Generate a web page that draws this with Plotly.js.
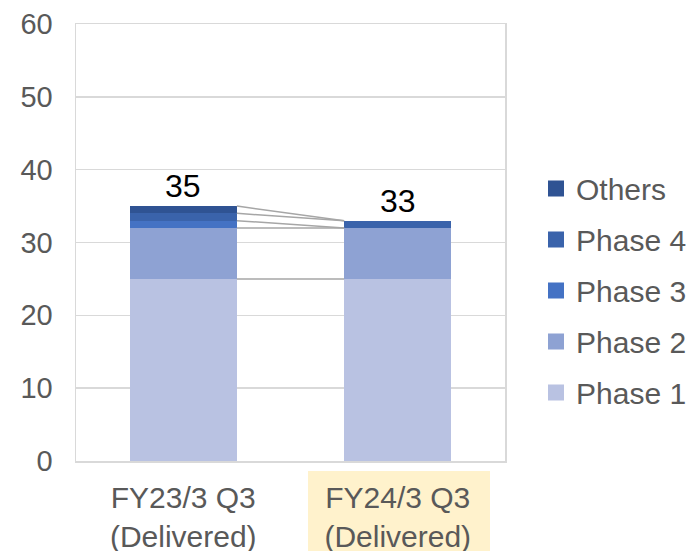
<!DOCTYPE html>
<html>
<head>
<meta charset="utf-8">
<script src="https://cdn.plot.ly/plotly-3.0.1.min.js"></script>
<style>html,body{margin:0;padding:0;background:#fff;}#chart{width:693px;height:551px;}</style>
</head>
<body>
<div id="chart"></div>
<script>
const categories = ["FY23/3 Q3<br>(Delivered)", "FY24/3 Q3<br>(Delivered)"];
const seriesNames = ["Phase 1", "Phase 2", "Phase 3", "Phase 4", "Others"];
const phase1 = [25, 25];
const phase2 = [7, 7];
const phase3 = [1, 0];
const phase4 = [1, 1];
const others = [1, 0];
const seriesColors = ["#B9C2E2", "#8EA2D3", "#4472C4", "#3A63AB", "#2F5393"];

const FONT = "Liberation Sans, Arial, sans-serif";
const seriesValues = [phase1, phase2, phase3, phase4, others];
const traces = seriesValues.map((vals, i) => ({
  type: "bar",
  name: seriesNames[i],
  x: categories,
  y: vals,
  width: 0.5,
  marker: {color: seriesColors[i], line: {width: 0}},
  showlegend: false,
  hoverinfo: "name+y"
}));
// legend entries (Others on top), square markers like the reference
for (let i = seriesNames.length - 1; i >= 0; i--) {
  traces.push({
    type: "scatter", mode: "markers", x: [null], y: [null], name: seriesNames[i],
    marker: {symbol: "square", size: 16, color: seriesColors[i]},
    legendgroup: "g" + i, legendrank: seriesNames.length - i, showlegend: true
  });
}

// cumulative tops for connector lines
const cum = [[], []];
for (let c = 0; c < 2; c++) {
  let s = 0;
  for (let i = 0; i < seriesValues.length; i++) { s += seriesValues[i][c]; cum[c].push(s); }
}
const totals = cum.map(a => a[a.length - 1]);

const shapes = [];
shapes.push({type: "rect", xref: "paper", yref: "paper", x0: (308 - 76) / 429, x1: (490 - 76) / 429,
  y0: -0.25, y1: -10 / 437, fillcolor: "#FFF2CC", line: {width: 0}, layer: "below"});
for (let i = 0; i < seriesValues.length; i++) {
  shapes.push({type: "line", xref: "x", yref: "y", x0: 0.25, x1: 0.75, y0: cum[0][i], y1: cum[1][i],
    line: {color: "#A6A6A6", width: 1.5}, layer: "above"});
}

const annotations = totals.map((t, c) => ({
  x: categories[c], y: t, xref: "x", yref: "y", text: String(t), showarrow: false,
  yanchor: "middle", yshift: 20, font: {family: FONT, size: 32, color: "#000000"}
}));

const layout = {
  width: 693, height: 551,
  margin: {l: 76, r: 188, t: 24, b: 90, autoexpand: false},
  paper_bgcolor: "#ffffff", plot_bgcolor: "#ffffff",
  barmode: "stack",
  font: {family: FONT, color: "#595959"},
  xaxis: {type: "category", range: [-0.5, 1.5], showgrid: false, showline: true, mirror: true, linecolor: "#D9D9D9", linewidth: 1.5,
    ticks: "", tickfont: {size: 30, color: "#595959"}, ticklabelstandoff: 9},
  yaxis: {range: [0, 60], dtick: 10, showgrid: true, gridcolor: "#D9D9D9", gridwidth: 1.5, zeroline: false,
    showline: true, mirror: true, linecolor: "#D9D9D9", linewidth: 1.5, ticks: "",
    tickfont: {size: 29, color: "#595959"}, ticklabelstandoff: 16},
  legend: {x: (536 - 76) / 429, xanchor: "left", y: 0.39, yanchor: "middle", traceorder: "grouped", tracegroupgap: 9,
    font: {size: 30, color: "#595959"}, bgcolor: "rgba(0,0,0,0)"},
  shapes: shapes,
  annotations: annotations,
  showlegend: true
};

Plotly.newPlot("chart", traces, layout, {displayModeBar: false, staticPlot: true});
</script>
</body>
</html>
